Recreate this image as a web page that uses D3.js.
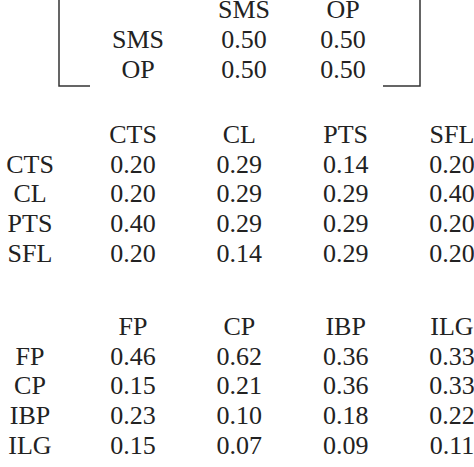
<!DOCTYPE html>
<html><head><meta charset="utf-8">
<script src="https://cdn.jsdelivr.net/npm/d3@7"></script>
<style>body{margin:0;background:#fff}text{font-family:"Liberation Serif","Times New Roman",serif;font-size:26px;fill:#222}</style>
</head><body>
<svg id="c" width="474" height="467"></svg>
<script>
var topCats = ["SMS", "OP"];
var topVals = [[0.50, 0.50], [0.50, 0.50]];
var midCats = ["CTS", "CL", "PTS", "SFL"];
var midVals = [[0.20, 0.29, 0.14, 0.20], [0.20, 0.29, 0.29, 0.40], [0.40, 0.29, 0.29, 0.20], [0.20, 0.14, 0.29, 0.20]];
var botCats = ["FP", "CP", "IBP", "ILG"];
var botVals = [[0.46, 0.62, 0.36, 0.33], [0.15, 0.21, 0.36, 0.33], [0.23, 0.10, 0.18, 0.22], [0.15, 0.07, 0.09, 0.11]];

var svg = d3.select("#c");

function table(cats, vals, xs, labelX, yHead, rowStep) {
    var x = d3.scalePoint().domain(cats).range(xs);
    var g = svg.append("g");
    g.selectAll(".h").data(cats).enter().append("text")
        .attr("x", function(d) { return x(d); }).attr("y", yHead)
        .attr("text-anchor", "middle").text(function(d) { return d; });
    var rows = g.selectAll(".r").data(vals).enter().append("g")
        .attr("transform", function(d, i) { return "translate(0," + (yHead + rowStep * (i + 1)) + ")"; });
    rows.append("text").attr("x", labelX).attr("text-anchor", "middle")
        .text(function(d, i) { return cats[i]; });
    rows.selectAll(".v").data(function(d) { return d; }).enter().append("text")
        .attr("x", function(d, j) { return x(cats[j]); })
        .attr("text-anchor", "middle").text(function(d) { return d.toFixed(2); });
}

table(topCats, topVals, [244, 343], 138, 18, 30);
table(midCats, midVals, [133, 452], 30, 143, 29.7);
table(botCats, botVals, [133, 452], 30, 335, 29.7);

// bracket
var line = d3.line();
svg.append("path").attr("d", line([[59, 0], [59, 86], [90, 86]])).attr("fill", "none").attr("stroke", "#333").attr("stroke-width", 1.5);
svg.append("path").attr("d", line([[420, 0], [420, 86], [383, 86]])).attr("fill", "none").attr("stroke", "#333").attr("stroke-width", 1.5);
</script>
</body></html>
